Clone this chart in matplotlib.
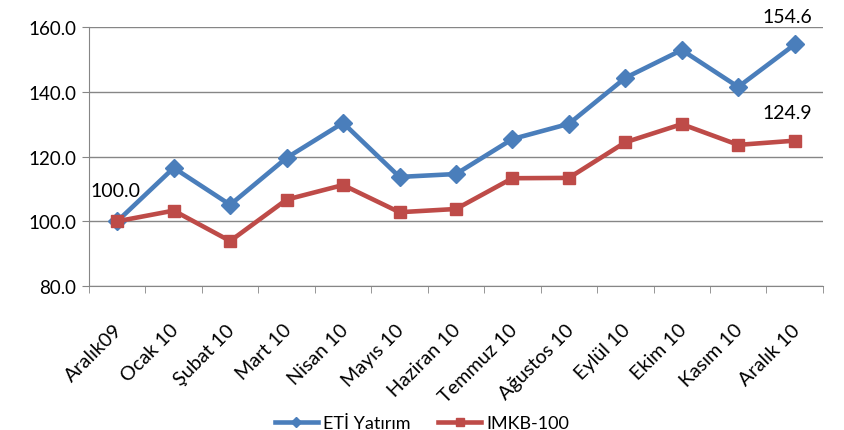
import matplotlib
matplotlib.use("Agg")
import matplotlib.pyplot as plt
from matplotlib.transforms import ScaledTranslation
import numpy as np

categories = ["Aralık09", "Ocak 10", "Şubat 10", "Mart 10", "Nisan 10", "Mayıs 10",
              "Haziran 10", "Temmuz 10", "Ağustos 10", "Eylül 10", "Ekim 10", "Kasım 10", "Aralık 10"]
eti = [100.0, 116.5, 105.1, 119.6, 130.4, 113.7, 114.6, 125.4, 130.1, 144.3, 152.9, 141.5, 154.6]
imkb = [100.0, 103.3, 93.9, 106.7, 111.2, 102.8, 103.8, 113.3, 113.4, 124.4, 130.0, 123.6, 124.9]
series_names = ["ETİ Yatırım", "IMKB-100"]
yticks = [80.0, 100.0, 120.0, 140.0, 160.0]

plt.rcParams['font.family'] = ['Lato', 'DejaVu Sans']

fig = plt.figure(figsize=(8.44, 4.31), dpi=100)
ax = fig.add_axes([0.1055, 0.334, 0.8695, 0.601])

x = np.arange(len(categories))
blue = "#4A7EBB"
red = "#BE4B48"
ax.plot(x, eti, color=blue, lw=3.3, marker="D", ms=9, label=series_names[0], zorder=3)
ax.plot(x, imkb, color=red, lw=3.3, marker="s", ms=9, label=series_names[1], zorder=3)

ax.set_xlim(-0.5, len(categories) - 0.5)
ax.set_ylim(80, 160)
ax.set_yticks(yticks)
ax.set_yticklabels([f"{v:.1f}" for v in yticks], fontsize=13.5)
ax.yaxis.grid(True, color="#868686", lw=1.0)
ax.set_axisbelow(True)

ax.set_xticks(x)
ax.set_xticklabels(categories, rotation=45, ha="right", rotation_mode="anchor",
                   fontsize=14.2)
ax.tick_params(axis="x", which="major", length=0, pad=25)
offset = ScaledTranslation(-4 / 100, 0, fig.dpi_scale_trans)
for lbl in ax.get_xticklabels():
    lbl.set_transform(lbl.get_transform() + offset)
ax.set_xticks(np.arange(-0.5, len(categories)), minor=True)
ax.tick_params(axis="x", which="minor", length=5, color="#868686")
ax.tick_params(axis="y", length=5, color="#868686", pad=4)

for s in ["top", "right"]:
    ax.spines[s].set_visible(False)
for s in ["left", "bottom"]:
    ax.spines[s].set_color("#868686")

ax.annotate(f"{eti[0]:.1f}", (x[0], eti[0]), xytext=(-19, 16), textcoords="offset points",
            fontsize=14, ha="left", va="bottom")
ax.annotate(f"{eti[-1]:.1f}", (x[-1], eti[-1]), xytext=(-5, 14), textcoords="offset points",
            fontsize=14, ha="center", va="bottom", annotation_clip=False)
ax.annotate(f"{imkb[-1]:.1f}", (x[-1], imkb[-1]), xytext=(-5, 14), textcoords="offset points",
            fontsize=14, ha="center", va="bottom", annotation_clip=False)

fig.legend(loc="lower center", bbox_to_anchor=(0.5, -0.04), ncol=2, frameon=False,
           fontsize=13, handlelength=2.4, handletextpad=0.3, columnspacing=1.5,
           markerscale=0.6)

fig.savefig("out.png", dpi=100)
